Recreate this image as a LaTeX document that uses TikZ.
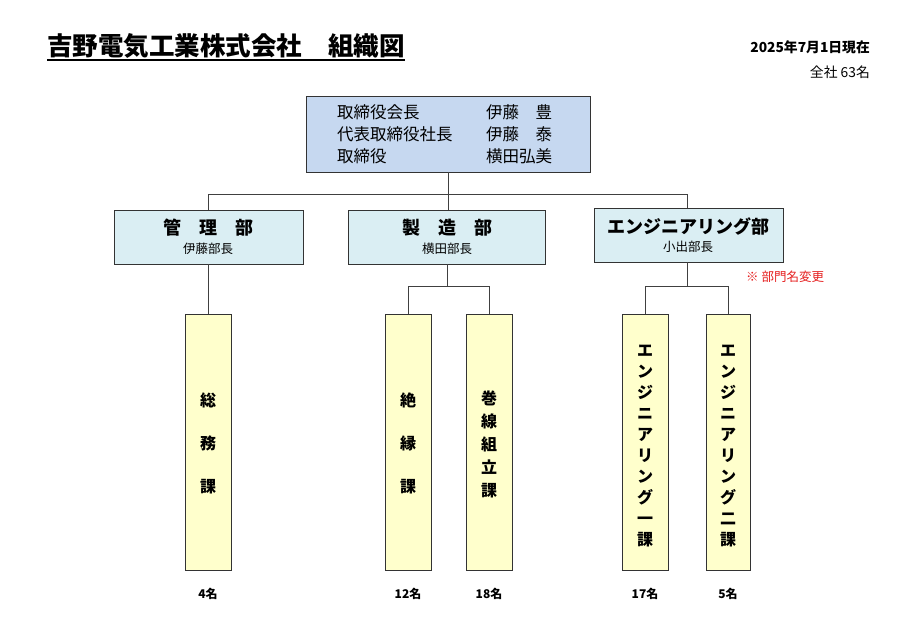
\documentclass[tikz,border=0pt]{standalone}
\usepackage{fontspec}
\setmainfont{Noto Sans CJK JP}
\begin{document}
\begin{tikzpicture}[x=1pt,y=-1pt,
  box/.style={draw=black!80,line width=0.9pt,inner sep=0pt},
  ln/.style={draw=black!75,line width=0.9pt},
  fs/.style={font=\fontsize{#1}{#1}\selectfont},
  fsb/.style={font=\fontsize{#1}{#1}\selectfont\bfseries},
  vt/.style={font=\fontsize{16}{#1}\selectfont\bfseries,align=center,inner sep=0pt}]
\useasboundingbox (0,0) rectangle (914,638);
\fill[white] (0,0) rectangle (914,638);
% title
\node[anchor=west,fsb=25.5,inner sep=0pt] (title) at (47,46) {吉野電気工業株式会社\hspace{26pt}組織図};
\draw[line width=1.1pt] (title.west|-0,60) -- (title.east|-0,60);
\node[anchor=east,fsb=13.8,inner sep=0pt] (date) at (870,47) {2025年7月1日現在};
\node[anchor=east,fs=13.8,inner sep=0pt] (tot) at (870,72) {全社 63名};
% top box
\draw[box,fill={rgb,255:red,198;green,216;blue,240}] (306,96) rectangle (590,172);
\coordinate (topb) at (448,172);
\foreach \l/\r/\y in {取締役会長/伊藤　豊/112,代表取締役社長/伊藤　泰/134,取締役/横田弘美/156}{
  \node[anchor=west,fs=16.5,inner sep=0pt] at (337,\y) {\l};
  \node[anchor=west,fs=16.5,inner sep=0pt] at (486,\y) {\r};
}
% departments
\definecolor{dep}{RGB}{218,238,243}
\draw[box,fill=dep] (114,210) rectangle (303,264);
\draw[box,fill=dep] (348,210) rectangle (545,264);
\draw[box,fill=dep] (594,208) rectangle (783,262);
\node[fsb=18] at (208,228) {管　理　部};
\node[fs=12.5] at (208,249) {伊藤部長};
\node[fsb=18] at (447,228) {製　造　部};
\node[fs=12.5] at (447,249) {横田部長};
\node[fsb=18] at (688,226) {エンジニアリング部};
\node[fs=12.5] at (688,247) {小出部長};
\node[anchor=west,fs=12.5,text={rgb,255:red,230;green,30;blue,30},inner sep=0pt] (note) at (746,277) {※ 部門名変更};
% connectors
\draw[ln] (448,172) -- (448,210);
\draw[ln] (208,210) -- (208,194) -- (687,194) -- (687,208);
\draw[ln] (208,264) -- (208,314);
\draw[ln] (447,264) -- (447,286);
\draw[ln] (408,314) -- (408,286) -- (489,286) -- (489,314);
\draw[ln] (687,262) -- (687,286);
\draw[ln] (645,314) -- (645,286) -- (728,286) -- (728,314);
% sections
\definecolor{sec}{RGB}{255,255,204}
\foreach \xa/\xb in {185/231,385/431,466/512,622/668,706/750}{
  \draw[box,fill=sec] (\xa,314) rectangle (\xb,570);
}
\node[vt=43] at (208,443) {総\\務\\課};
\node[vt=43] at (408,443) {絶\\縁\\課};
\node[vt=23] at (489,444) {巻\\線\\組\\立\\課};
\node[vt=21] at (645,446) {エ\\ン\\ジ\\ニ\\ア\\リ\\ン\\グ\\一\\課};
\node[vt=21] at (728,446) {エ\\ン\\ジ\\ニ\\ア\\リ\\ン\\グ\\二\\課};
% counts
\foreach \x/\t in {208/4名,408/12名,489/18名,645/17名,728/5名}{
  \node[fsb=12] at (\x,594) {\t};
}
\end{tikzpicture}
\end{document}
